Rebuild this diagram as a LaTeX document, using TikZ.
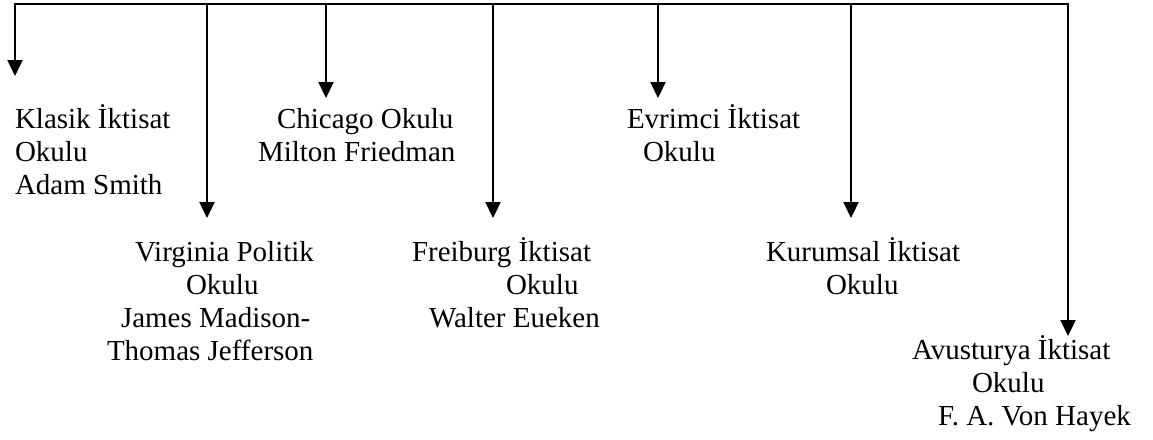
\documentclass[tikz,border=0pt]{standalone}
\usepackage{fontspec}
\setmainfont{Liberation Serif}
\usetikzlibrary{arrows.meta}

\tikzset{
  bar/.style={line width=2.2pt, line cap=rect},
  drop/.style={line width=2.2pt, -{Triangle[length=16pt,width=15pt]}},
  school/.style={anchor=base west, inner sep=0pt, outer sep=0pt,
    font=\fontsize{29}{33}\selectfont}
}
\newcommand{\blockL}[1]{\renewcommand{\arraystretch}{1}\begin{tabular}[t]{@{}l@{}}#1\end{tabular}}

\begin{document}
\begin{tikzpicture}[x=1pt,y=-1pt]
  \useasboundingbox (0,0) rectangle (1153,439);

  % points on the top bar
  \coordinate (b1) at (15,4);
  \coordinate (b2) at (207,4);
  \coordinate (b3) at (326,4);
  \coordinate (b4) at (493,4);
  \coordinate (b5) at (658,4);
  \coordinate (b6) at (851,4);
  \coordinate (b7) at (1068,4);

  % arrow tips
  \coordinate (t1) at (15,76);
  \coordinate (t2) at (207,218);
  \coordinate (t3) at (326,98);
  \coordinate (t4) at (493,218);
  \coordinate (t5) at (658,98);
  \coordinate (t6) at (851,218);
  \coordinate (t7) at (1068,336);

  % the schools
  \node[school] (klasik) at (15,128)
    {\blockL{Klasik İktisat\\Okulu\\Adam Smith}};
  \node[school] (chicago) at (258,128)
    {\blockL{\hspace*{19pt}Chicago Okulu\\Milton Friedman}};
  \node[school] (evrimci) at (627,128)
    {\blockL{Evrimci İktisat\\\hspace*{16pt}Okulu}};
  \node[school] (virginia) at (107,261)
    {\blockL{\hspace*{28pt}Virginia Politik\\\hspace*{79pt}Okulu\\\hspace*{14pt}James Madison-\\Thomas Jefferson}};
  \node[school] (freiburg) at (412,261)
    {\blockL{Freiburg İktisat\\\hspace*{94pt}Okulu\\\hspace*{17pt}Walter Eueken}};
  \node[school] (kurumsal) at (766,261)
    {\blockL{Kurumsal İktisat\\\hspace*{60pt}Okulu}};
  \node[school] (avusturya) at (912,359)
    {\blockL{Avusturya İktisat\\\hspace*{60pt}Okulu\\\hspace*{26pt}F. A. Von Hayek}};

  % connectors
  \draw[bar] (b1) -- (b7);
  \draw[drop] (b1) -- (t1);
  \draw[drop] (b2) -- (t2);
  \draw[drop] (b3) -- (t3);
  \draw[drop] (b4) -- (t4);
  \draw[drop] (b5) -- (t5);
  \draw[drop] (b6) -- (t6);
  \draw[drop] (b7) -- (t7);
\end{tikzpicture}
\end{document}
